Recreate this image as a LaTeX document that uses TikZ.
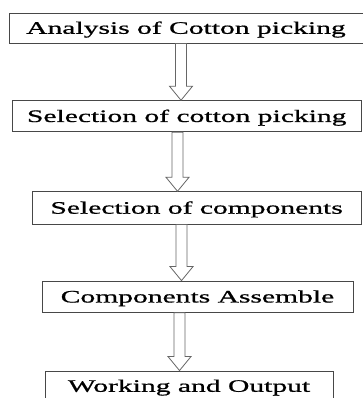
\documentclass[tikz,border=0pt]{standalone}
\usepackage{fontspec}
\setmainfont{Liberation Serif}[FakeStretch=1.69,FakeBold=0.8]
\usetikzlibrary{calc}
\tikzset{
  box/.style={draw=black!72, line width=0.9pt, fill=white, inner sep=0pt,
    text height=11.6pt, text depth=0pt,
    font=\fontsize{17.5}{20}\selectfont},
  blockarrow/.style={draw=black!60, line width=0.8pt, fill=white, line join=miter}
}
\newcommand{\blockarr}[3]{%
  \draw[blockarrow] let \p1=(#1.south), \p2=(#2.north) in
    (#3-5.5,\y1) -- (#3-5.5,\y2+14) -- (#3-11.5,\y2+14) -- (#3,\y2)
    -- (#3+11.5,\y2+14) -- (#3+5.5,\y2+14) -- (#3+5.5,\y1) -- cycle;}
\begin{document}
\begin{tikzpicture}[x=1pt,y=1pt]
\useasboundingbox[fill=white] (0,0) rectangle (362,398);
\node[box, minimum width=354pt, minimum height=30pt] (b1) at (186,370) {Analysis of Cotton picking};
\node[box, minimum width=348.5pt, minimum height=31pt] (b2) at (186.75,281.8) {Selection of cotton picking};
\node[box, minimum width=329.3pt, minimum height=32.3pt] (b3) at (196.6,190.1) {Selection of components};
\node[box, minimum width=311pt, minimum height=31.3pt] (b4) at (197.5,101.3) {Components Assemble};
\node[box, minimum width=288pt, minimum height=30pt] (b5) at (189,12) {Working and Output};
\blockarr{b1}{b2}{181}
\blockarr{b2}{b3}{177.5}
\blockarr{b3}{b4}{181.5}
\blockarr{b4}{b5}{179.5}
\end{tikzpicture}
\end{document}
